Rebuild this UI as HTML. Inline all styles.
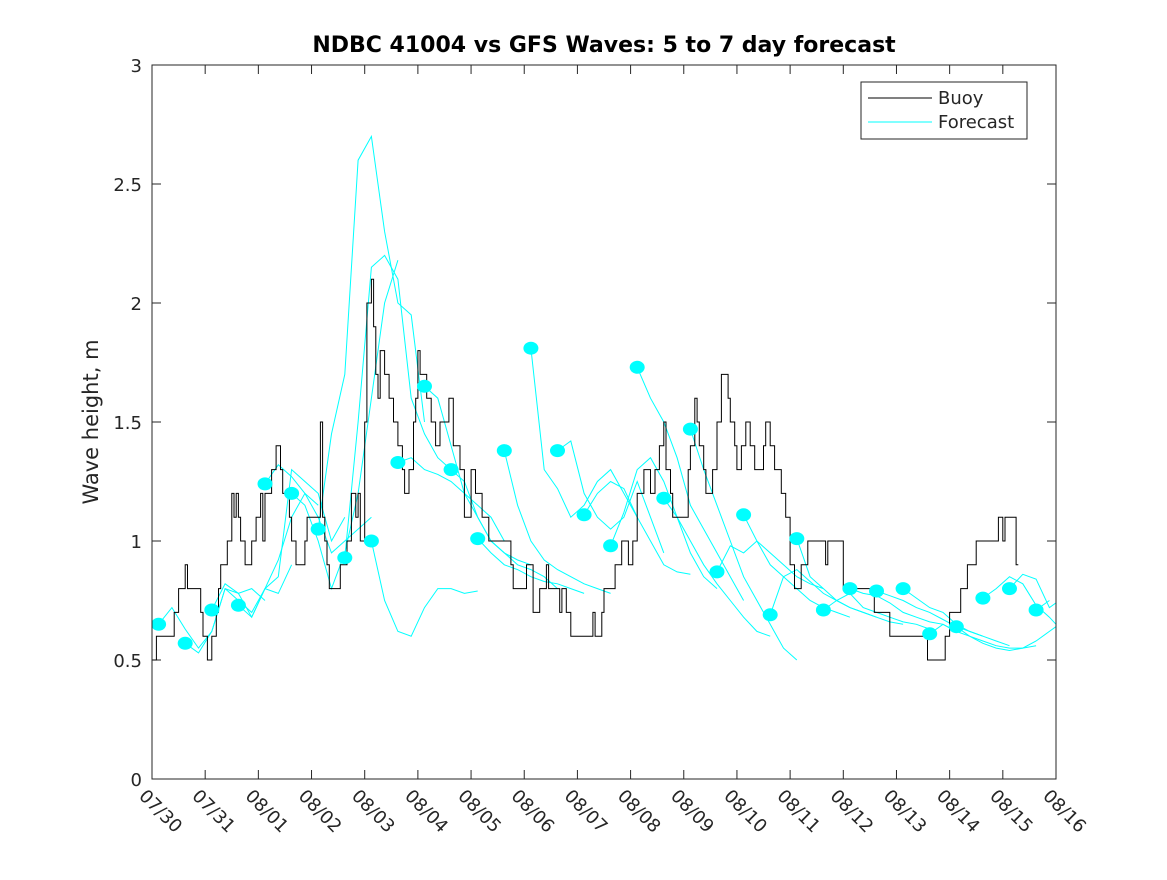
<!DOCTYPE html>
<html><head><meta charset="utf-8">
<style>
html,body{margin:0;padding:0;background:#fff;}
svg text{font-family:"DejaVu Sans","Liberation Sans",sans-serif;fill:#262626;}
</style></head>
<body>
<svg id="chart" width="1167" height="875" viewBox="0 0 1167 875" xmlns="http://www.w3.org/2000/svg">
<defs><clipPath id="plotclip"><rect x="152" y="65" width="904" height="714"/></clipPath></defs>
<rect x="0" y="0" width="1167" height="875" fill="#fff"/>
<text x="604" y="52" font-size="22" font-weight="bold" text-anchor="middle" style="fill:#000">NDBC 41004 vs GFS Waves: 5 to 7 day forecast</text>
<text transform="translate(98,422) rotate(-90)" font-size="21" text-anchor="middle">Wave height, m</text>
<g id="axes"></g>
<g id="series" clip-path="url(#plotclip)"></g>
<rect x="152" y="65" width="904" height="714" fill="none" stroke="#262626" stroke-width="1"/>
<g>
<rect x="861" y="82" width="166" height="57" fill="#fff" stroke="#262626" stroke-width="1"/>
<line x1="868" y1="98" x2="932" y2="98" stroke="#000" stroke-width="1"/>
<text x="938" y="104" font-size="18">Buoy</text>
<line x1="868" y1="122" x2="932" y2="122" stroke="#00ffff" stroke-width="1"/>
<text x="938" y="128" font-size="18">Forecast</text>
</g>
</svg>
<script>
const xTickLabels = ["07/30","07/31","08/01","08/02","08/03","08/04","08/05","08/06","08/07","08/08","08/09","08/10","08/11","08/12","08/13","08/14","08/15","08/16"];
const yTicks = [0,0.5,1,1.5,2,2.5,3];
const yTickLabels = ["0","0.5","1","1.5","2","2.5","3"];
const buoyHours = [0,2,10,12,15,16,22,23,25,27,29,30,31,34,36,37,38,39,40,42,45,47,49,50,51,54,56,58,59,62,63,65,69,70,76,77,78,79,80,85,88,90,92,93,94,96,97,99,100,101,102,103,105,107,109,111,113,114,116,118,119,120,121,124,126,128,130,134,136,139,141,144,146,149,152,162,163,169,172,175,178,179,184,185,187,189,199,200,203,204,209,212,215,217,219,222,225,227,229,231,232,234,235,242,243,245,246,247,249,250,253,255,257,260,261,263,264,266,268,270,272,276,277,279,281,284,286,288,290,293,296,304,305,312,326,333,350,358,360,365,368,372,382,384,385,390];
const buoyValues = [0.5,0.6,0.7,0.8,0.9,0.8,0.7,0.6,0.5,0.6,0.7,0.8,0.9,1.0,1.2,1.1,1.2,1.1,1.0,0.9,1.0,1.1,1.2,1.0,1.2,1.3,1.4,1.3,1.2,1.1,1.0,0.9,1.0,1.1,1.5,1.1,1.0,0.9,0.8,0.9,1.0,1.2,1.1,1.2,1.0,1.5,2.0,2.1,1.9,1.7,1.6,1.8,1.7,1.6,1.5,1.4,1.3,1.2,1.3,1.5,1.6,1.8,1.7,1.6,1.5,1.4,1.5,1.6,1.4,1.3,1.1,1.3,1.2,1.1,1.0,0.9,0.8,0.9,0.7,0.8,0.9,0.8,0.7,0.8,0.7,0.6,0.7,0.6,0.7,0.8,0.9,1.0,0.9,1.0,1.2,1.3,1.2,1.3,1.4,1.5,1.3,1.2,1.1,1.3,1.4,1.6,1.5,1.4,1.3,1.2,1.3,1.5,1.7,1.6,1.5,1.4,1.3,1.4,1.5,1.4,1.3,1.4,1.5,1.4,1.3,1.2,1.1,0.9,0.8,0.9,1.0,0.9,1.0,0.8,0.7,0.6,0.5,0.6,0.7,0.8,0.9,1.0,1.1,1.0,1.1,0.9];
const forecastStartHours = [3,15,27,39,51,63,75,87,99,111,123,135,147,159,171,183,195,207,219,231,243,255,267,279,291,303,315,327,339,351,363,375,387,399];
const forecastStepHours = 6;
const forecastSeries = [
[0.65,0.72,0.63,0.55,0.62,0.8,0.78,0.8,0.75],
[0.57,0.53,0.62,0.8,0.75,0.7,0.8,0.78,0.9],
[0.71,0.82,0.78,0.68,0.8,0.92,1.1,1.2,1.15],
[0.73,0.68,0.8,0.85,1.3,1.25,1.2,1.0,1.1],
[1.24,1.32,1.27,1.2,1.1,0.95,1.0,1.05,1.1],
[1.2,1.15,1.0,0.8,0.95,1.2,1.6,2.0,2.18],
[1.05,1.45,1.7,2.6,2.7,2.3,2.0,1.95,1.5],
[0.93,1.5,2.15,2.2,2.1,1.6,1.45,1.35,1.3],
[1.0,0.75,0.62,0.6,0.72,0.8,0.8,0.78,0.79],
[1.33,1.35,1.3,1.28,1.25,1.2,1.15,1.1,1.0],
[1.65,1.6,1.4,1.2,1.1,1.0,0.95,0.92,0.9],
[1.3,1.25,1.1,1.0,0.95,0.9,0.88,0.85,0.8],
[1.01,0.95,0.9,0.88,0.85,0.83,0.82,0.8,0.78],
[1.38,1.15,1.0,0.92,0.88,0.85,0.82,0.8,0.78],
[1.81,1.3,1.22,1.1,1.15,1.25,1.3,1.2,1.1],
[1.38,1.42,1.2,1.1,1.05,1.1,1.25,1.1,0.95],
[1.11,1.2,1.25,1.22,1.1,1.0,0.9,0.87,0.86],
[0.98,1.12,1.3,1.35,1.25,1.1,0.95,0.85,0.8],
[1.73,1.6,1.5,1.35,1.15,1.05,0.95,0.85,0.75],
[1.18,1.1,1.0,0.9,0.82,0.75,0.68,0.62,0.6],
[1.47,1.3,1.15,1.0,0.85,0.75,0.65,0.55,0.5],
[0.87,0.98,0.95,1.0,0.95,0.9,0.85,0.82,0.8],
[1.11,1.0,0.9,0.85,0.8,0.75,0.72,0.7,0.68],
[0.69,0.85,0.88,0.83,0.78,0.75,0.72,0.7,0.68],
[1.01,0.85,0.8,0.75,0.72,0.7,0.68,0.66,0.65],
[0.71,0.75,0.78,0.72,0.7,0.68,0.66,0.65,0.63],
[0.8,0.78,0.77,0.74,0.7,0.68,0.66,0.65,0.62],
[0.79,0.77,0.75,0.72,0.7,0.67,0.64,0.62,0.6],
[0.8,0.76,0.72,0.7,0.65,0.62,0.6,0.58,0.56],
[0.61,0.65,0.62,0.6,0.58,0.56,0.55,0.55,0.56],
[0.64,0.6,0.57,0.55,0.54,0.55,0.58,0.62,0.66],
[0.76,0.8,0.85,0.82,0.73,0.68,0.62],
[0.8,0.86,0.84,0.72,0.76],
[0.71,0.75]
];

const NS = "http://www.w3.org/2000/svg";
const X0 = 152, X1 = 1056, Y0 = 779, Y1 = 65;
const totalHours = 17 * 24;
function xScale(h){ return X0 + (X1 - X0) * h / totalHours; }
function yScale(v){ return Y0 - (Y0 - Y1) * v / 3; }
function mk(tag, attrs){ const e = document.createElementNS(NS, tag); for (const k in attrs) e.setAttribute(k, attrs[k]); return e; }

const axes = document.getElementById('axes');
xTickLabels.forEach((lab, i) => {
  const x = xScale(i * 24);
  const t1 = mk('line', {x1:x, y1:Y0, x2:x, y2:Y0-9, stroke:'#262626'});
  
  
  axes.appendChild(t1);
  const t2 = mk('line', {x1:x, y1:Y1, x2:x, y2:Y1+9, stroke:'#262626'});
  
  
  axes.appendChild(t2);
  const tx = mk('text', {transform:'translate(' + (x - 14) + ',' + 797 + ') rotate(45)', 'font-size':'18'});
  tx.textContent = lab;
  
  
  axes.appendChild(tx);
});
yTicks.forEach((v, i) => {
  const y = yScale(v);
  const t1 = mk('line', {x1:X0, y1:y, x2:X0+9, y2:y, stroke:'#262626'});
  
  
  axes.appendChild(t1);
  const t2 = mk('line', {x1:X1, y1:y, x2:X1-9, y2:y, stroke:'#262626'});
  
  
  axes.appendChild(t2);
  const tx = mk('text', {x:X0 - 10, y:y + 7, 'font-size':'18', 'text-anchor':'end'});
  tx.textContent = yTickLabels[i];
  
  
  axes.appendChild(tx);
});

const series = document.getElementById('series');
forecastSeries.forEach((vals, k) => {
  const pts = vals.map((v, j) => xScale(forecastStartHours[k] + j * forecastStepHours).toFixed(1) + ',' + yScale(v).toFixed(1)).join(' ');
  const pl = mk('polyline', {points:pts, fill:'none', stroke:'#00ffff', 'stroke-width':'1'});
  
  
  series.appendChild(pl);
});
let d = '';
buoyHours.forEach((h, i) => {
  const x = xScale(h).toFixed(1), y = yScale(buoyValues[i]).toFixed(1);
  if (i === 0) d += 'M' + x + ',' + y;
  else d += 'L' + x + ',' + yScale(buoyValues[i-1]).toFixed(1) + 'L' + x + ',' + y;
});
d += 'L' + xScale(buoyHours[buoyHours.length-1] + 1).toFixed(1) + ',' + yScale(buoyValues[buoyValues.length-1]).toFixed(1);
const bp = mk('path', {d:d, fill:'none', stroke:'#000', 'stroke-width':'1'});


series.appendChild(bp);
forecastSeries.forEach((vals, k) => {
  const c = mk('ellipse', {cx:xScale(forecastStartHours[k]).toFixed(1), cy:yScale(vals[0]).toFixed(1), rx:'7.5', ry:'6.5', fill:'#00ffff'});
  
  
  series.appendChild(c);
});
</script>
</body></html>
